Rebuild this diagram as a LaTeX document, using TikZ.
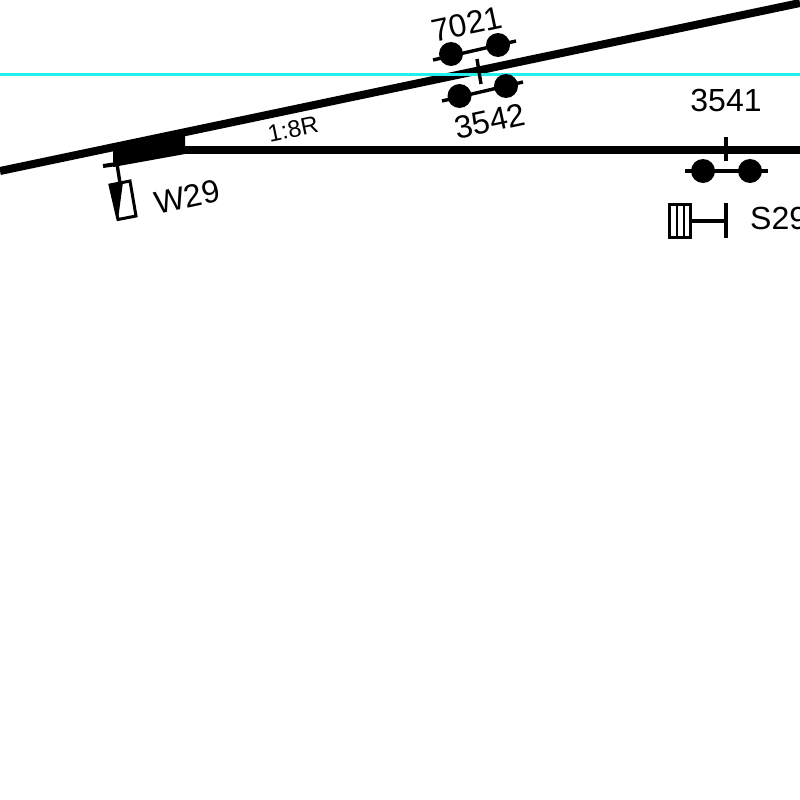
\documentclass[tikz,border=0pt]{standalone}
\usepackage{fontspec}
\setmainfont{Liberation Sans}
\usepackage{tikz}
\usetikzlibrary{positioning,calc}
\definecolor{LineCyan}{HTML}{22EEEE}

\begin{document}
\begin{tikzpicture}[
  x=1pt,y=-1pt,
  track/.style={draw,line width=8pt},
  thin track/.style={draw,line width=3.4pt},
  dot/.style={circle,fill=black,inner sep=0pt,minimum size=24pt},
  lab/.style={inner sep=0pt,font=\fontsize{32}{34}\selectfont},
  small lab/.style={inner sep=0pt,font=\fontsize{24}{26}\selectfont}
]
\useasboundingbox (0,0) rectangle (800,800);
\clip (0,0) rectangle (800,800);
\fill[white] (0,0) rectangle (800,800);
% grid line
\coordinate (gl) at (0,74);
\coordinate (gr) at (800,74);
% tracks
\coordinate (ml) at (0,171);
\coordinate (mr) at (800,3);
\coordinate (tip) at (185,150);
\coordinate (sr) at (800,150);
\draw[track] (ml) -- (mr);
\draw[track] (tip) -- (sr);
\fill (113,148) -- (185,132) -- (185,154) -- (113,167) -- cycle;
\draw[draw=LineCyan,line width=3pt] (gl) -- (gr);
% point machine W29
\coordinate (wa) at (103,166);
\coordinate (wb) at (117,164);
\coordinate (wc) at (120,183);
\draw[thin track,line width=4pt] (wa) -- (wb);
\draw[thin track] (wb) -- (wc);
\draw[line width=3pt] (110,185) -- (130,181) -- (136,216) -- (118,219.5) -- cycle;
\fill (110,185) -- (123,182) -- (118,219.5) -- cycle;
\node[lab,rotate=12] (w29) at (187,197) {W29};
\node[small lab,rotate=12] (ratio) at (293,129) {1:8R};
% signals on the upper track
\coordinate (ua) at (433,60);
\coordinate (ub) at (516,41);
\draw[thin track] (ua) -- (ub);
\node[dot] (d7021a) at (451,54) {};
\node[dot] (d7021b) at (498,45) {};
\node[lab,rotate=12] (t7021) at (467,24) {7021};
\coordinate (ta) at (477,59);
\coordinate (tb) at (481,84);
\draw[thin track] (ta) -- (tb);
\coordinate (la) at (442,101);
\coordinate (lb) at (523,82);
\draw[thin track] (la) -- (lb);
\node[dot] (d3542a) at (459.5,96) {};
\node[dot] (d3542b) at (506,86) {};
\node[lab,rotate=12] (t3542) at (490,121) {3542};
% signal on the straight track
\node[lab] (t3541) at (726,100) {3541};
\coordinate (ka) at (726,137);
\coordinate (kb) at (726,161);
\draw[thin track] (ka) -- (kb);
\coordinate (ha) at (685,171);
\coordinate (hb) at (768,171);
\draw[thin track] (ha) -- (hb);
\node[dot] (d3541a) at (703,171) {};
\node[dot] (d3541b) at (750,171) {};
% stop S29
\node[draw,line width=3pt,minimum width=21pt,minimum height=33pt,inner sep=0pt] (sbox) at (679.5,221) {};
\draw[line width=2.4pt] (677,204) -- (677,238) (684,204) -- (684,238);
\coordinate (sa) at (726,203);
\coordinate (sb) at (726,238);
\coordinate (sc) at (726,221);
\draw[thin track] (sa) -- (sb);
\draw[thin track] (sbox) -- (sc);
\node[lab,anchor=base west] (s29) at (750,229) {S29};
\end{tikzpicture}
\end{document}
